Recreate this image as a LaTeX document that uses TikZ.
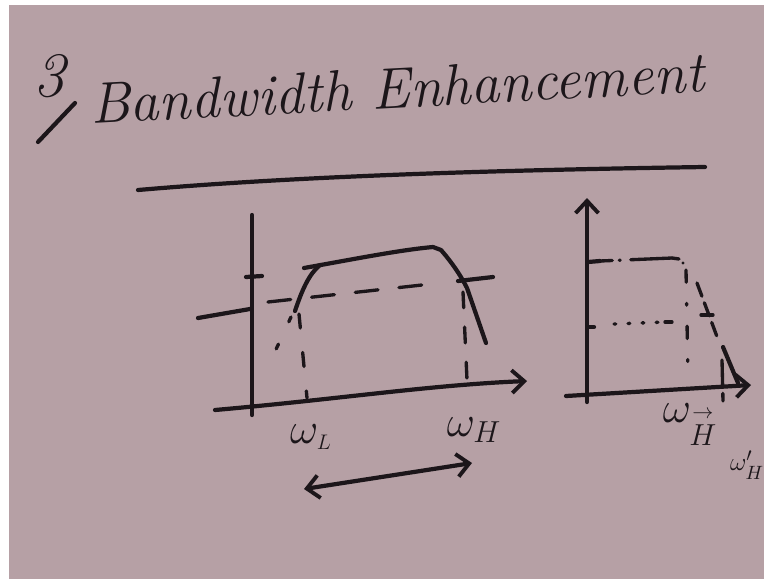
\documentclass[tikz,border=0pt]{standalone}
\usepackage{amsmath,amssymb}
\usepackage{xcolor}
\usetikzlibrary{arrows.meta,positioning}

\definecolor{board}{RGB}{182,160,165}
\definecolor{ink}{RGB}{28,22,26}

\tikzset{
    pen/.style={ink, line width=2.4pt, line cap=round, line join=round},
    thinpen/.style={ink, line width=1.9pt, line cap=round},
    barb/.style={-{Straight Barb[length=7pt,width=13pt,line width=2.2pt]}},
    hand/.style={ink, inner sep=0pt, font=\fontsize{26}{30}\selectfont}
}

\begin{document}
\begin{tikzpicture}[x=0.02cm, y=-0.02cm]
        \useasboundingbox (0,0) rectangle (764,579);
        \fill[white] (0,0) rectangle (764,579);
        \fill[board] (9,5) rectangle (764,579);

        % heading
        \node[hand] (num) at (49,76) {\fontsize{36}{40}\selectfont\itshape 3};
        \coordinate (slashA) at (38,142);
        \coordinate (slashB) at (75,103);
        \draw[pen] (slashA) -- (slashB);
        \node[ink, rotate=3, font=\fontsize{33}{38}\selectfont\itshape] (title) at (397,88) {Bandwidth Enhancement};
        \coordinate (ulA) at (138,190);
        \coordinate (ulB) at (705,167);
        \draw[pen] (ulA) .. controls (300,176) and (500,170) .. (ulB);

        % left plot: amplifier response
        \coordinate (yb1) at (252,415);
        \coordinate (yt1) at (252,215);
        \coordinate (xl1) at (215,410);
        \coordinate (xr1) at (527,381);
        \draw[pen] (yb1) -- (yt1);
        \draw[pen, barb] (xl1) .. controls (340,399) and (430,385) .. (xr1);
        \draw[pen] (246,277) -- (262,276);
        \draw[pen] (198,318) -- (250,309);

        \coordinate (lo) at (295,311);
        \coordinate (knL) at (320,265);
        \coordinate (knR) at (433,247);
        \coordinate (hi) at (486,343);
        \draw[pen] (lo) .. controls (302,290) and (309,274) .. (knL);
        \draw[pen] (304,268) .. controls (360,258) and (400,250) .. (knR) -- (441,250)
            .. controls (455,266) and (463,280) .. (467,288) -- (hi);
        \draw[pen] (458,281) -- (493,277);

        \draw[thinpen, dash pattern=on 13pt off 12pt] (268,302) -- (440,283);
        \draw[thinpen, dash pattern=on 8pt off 14pt] (299,314) -- (307,398);
        \draw[thinpen, dash pattern=on 3pt off 14pt] (291,317) -- (272,358);
        \draw[thinpen, dash pattern=on 9pt off 11pt] (463,292) -- (467,380);

        \node[hand] (wL) at (311,437) {$\omega_{\scriptscriptstyle L}$};
        \node[hand] (wH) at (474,430) {$\omega_{\scriptstyle H}$};
        \coordinate (bwL) at (304,489);
        \coordinate (bwR) at (472,463);
        \draw[pen, {Straight Barb[length=7pt,width=13pt,line width=2.2pt]}-{Straight Barb[length=7pt,width=13pt,line width=2.2pt]}] (bwL) -- (bwR);

        % right plot: shifted upper corner
        \coordinate (yb2) at (587,402);
        \coordinate (yt2) at (587,198);
        \coordinate (xl2) at (566,396);
        \coordinate (xr2) at (751,385);
        \draw[pen, barb] (yb2) -- (yt2);
        \draw[pen, barb] (xl2) -- (xr2);
        \draw[pen] (588,262) -- (600,261);
        \draw[pen] (588,327) -- (594,327);

        \coordinate (top2) at (672,258);
        \draw[thinpen, dash pattern=on 7pt off 4pt on 0.5pt off 6pt on 24pt off 200pt] (600,261) -- (top2);
        \draw[thinpen] (top2) -- (679,259);
        \fill[ink] (683,263) circle (1.6);
        \draw[thinpen, dash pattern=on 7pt off 12pt on 1pt off 12pt] (686,270) -- (688,375);
        \draw[thinpen, dash pattern=on 1pt off 7pt] (614,324) -- (665,322);
        \draw[thinpen] (665,322) -- (672,322);
        \draw[thinpen] (701,315) -- (713,315);
        \draw[thinpen, dash pattern=on 8pt off 4pt] (697,283) -- (719,342);
        \draw[pen] (723,347) -- (738,383);
        \draw[thinpen, dash pattern=on 14pt off 5pt] (722,360) -- (723,401);

        \node[hand] (wHs) at (690,425) {$\omega_{\overset{\rightarrow}{\scriptstyle H}}$};
        \node[hand, font=\fontsize{15}{17}\selectfont] (wHp) at (747,465) {$\omega_{H}'$};
\end{tikzpicture}
\end{document}
